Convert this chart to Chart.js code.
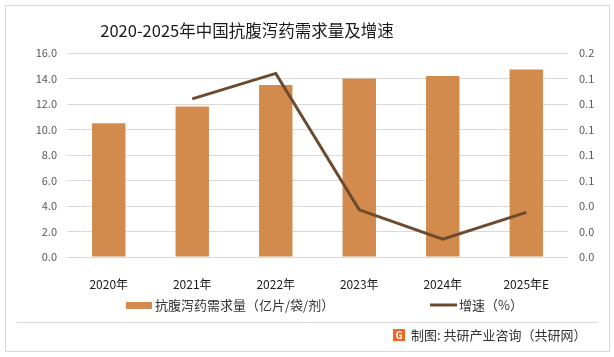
<!DOCTYPE html>
<html><head><meta charset="utf-8">
<script src="https://cdn.jsdelivr.net/npm/chart.js@4/dist/chart.umd.min.js"></script>
<style>html,body{margin:0;padding:0;background:#fff;}#wrap{position:relative;width:614px;height:357px;}</style>
</head><body><div id="wrap"><canvas id="c" width="614" height="357"></canvas></div>
<script>
const categories = ['2020年','2021年','2022年','2023年','2024年','2025年E'];
const demand = [10.5, 11.8, 13.5, 14.0, 14.2, 14.7];
const growth = [null, 0.124, 0.144, 0.037, 0.014, 0.035];
const leftTicks = [0,2,4,6,8,10,12,14,16];
const titleText = '2020-2025年中国抗腹泻药需求量及增速';
const barLabel = '抗腹泻药需求量（亿片/袋/剂）';
const lineLabel = '增速（%）';
const footerText = '制图: 共研产业咨询（共研网）';

const FONT = '"Noto Sans CJK SC", "Noto Sans", sans-serif';
const BAR = '#D38B4D', LINE = '#6B4A2E';

const deco = {
  id: 'deco',
  beforeDraw(chart){
    const ctx = chart.ctx;
    ctx.save();
    ctx.fillStyle = '#fff'; ctx.fillRect(0,0,614,357);
    ctx.strokeStyle = '#d9d9d9'; ctx.lineWidth = 1;
    ctx.strokeRect(5.5,5.5,604,346);
    ctx.beginPath(); ctx.moveTo(17,322.5); ctx.lineTo(598,322.5); ctx.stroke();
    ctx.restore();
  },
  afterDraw(chart){
    const ctx = chart.ctx;
    const barDs = chart.data.datasets.find(d => d.type === 'bar');
    const lineDs = chart.data.datasets.find(d => d.type === 'line');
    ctx.save();
    ctx.textBaseline = 'middle';
    ctx.fillStyle = '#1a1a1a';
    ctx.font = '16.5px ' + FONT;
    ctx.textAlign = 'center';
    ctx.fillText(titleText, 247, 31);
    // legend
    ctx.textAlign = 'left';
    ctx.font = '13px ' + FONT;
    ctx.fillStyle = barDs.backgroundColor;
    ctx.fillRect(126, 302, 26, 7);
    ctx.fillStyle = '#333';
    ctx.fillText(barDs.label, 155, 305);
    ctx.strokeStyle = lineDs.borderColor; ctx.lineWidth = 3;
    ctx.beginPath(); ctx.moveTo(430,305); ctx.lineTo(457,305); ctx.stroke();
    ctx.fillText(lineDs.label, 459, 305);
    // footer logo
    ctx.fillStyle = '#F26522';
    ctx.fillRect(393, 329, 12, 12);
    ctx.fillStyle = '#fff';
    ctx.font = 'bold 10px ' + FONT;
    ctx.textAlign = 'center';
    ctx.fillText('G', 399, 335);
    ctx.fillStyle = '#333';
    ctx.textAlign = 'left';
    ctx.font = '13px ' + FONT;
    ctx.fillText(footerText, 411, 335);
    ctx.restore();
  }
};

new Chart(document.getElementById('c'), {
  data: {
    labels: categories,
    datasets: [
      { type: 'line', label: lineLabel, data: growth, yAxisID: 'y1', borderColor: LINE, backgroundColor: LINE,
        borderWidth: 3, pointRadius: 0, tension: 0, order: 0, spanGaps: false },
      { type: 'bar', label: barLabel, data: demand, yAxisID: 'y', backgroundColor: BAR,
        categoryPercentage: 1, barPercentage: 0.4, order: 1 }
    ]
  },
  options: {
    responsive: false, animation: false,
    layout: { padding: { top: 53, bottom: 0, left: 0, right: 0 } },
    plugins: { legend: { display: false }, title: { display: false }, tooltip: { enabled: false } },
    scales: {
      x: {
        grid: { display: false }, border: { display: false },
        ticks: { color: '#1a1a1a', font: { family: FONT, size: 12 }, padding: 12, maxRotation: 0 },
        afterFit(s){ s.height = 100; }
      },
      y: {
        position: 'left', min: 0, max: 16,
        afterBuildTicks(s){ s.ticks = leftTicks.map(v => ({ value: v })); },
        grid: { color: '#d9d9d9', lineWidth: 1, drawTicks: false }, border: { display: false },
        ticks: { color: '#595959', font: { family: FONT, size: 11 }, padding: 10, callback: v => Number(v).toFixed(1) },
        afterFit(s){ s.width = 67; }
      },
      y1: {
        position: 'right', min: 0, max: 0.16,
        afterBuildTicks(s){ s.ticks = leftTicks.map(v => ({ value: v / 100 })); },
        grid: { display: false, drawTicks: false }, border: { display: false },
        ticks: { color: '#595959', font: { family: FONT, size: 11 }, padding: 11, callback: v => Number(v).toFixed(1) },
        afterFit(s){ s.width = 46; }
      }
    }
  },
  plugins: [deco]
});
</script></body></html>
